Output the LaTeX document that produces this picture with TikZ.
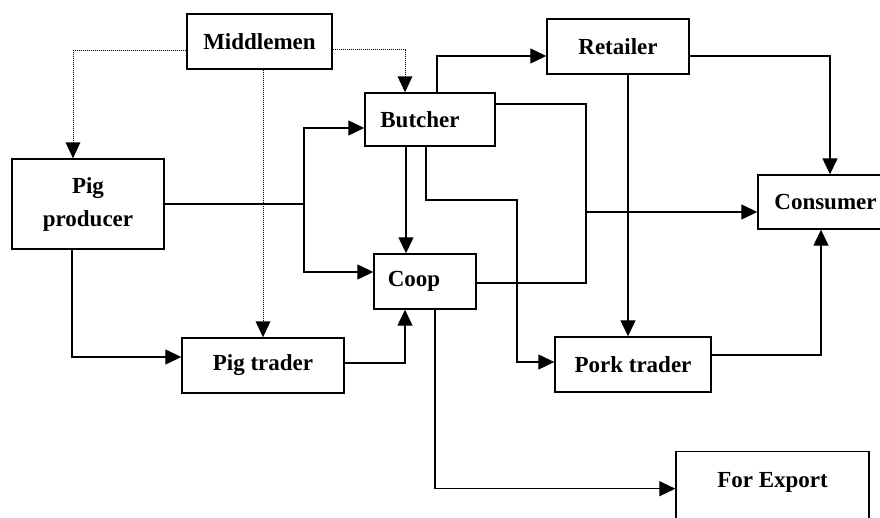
\documentclass[tikz,border=0pt]{standalone}
\usepackage{fontspec}
\setmainfont{Liberation Serif}
\usetikzlibrary{arrows.meta,calc}
\begin{document}
\begin{tikzpicture}[x=1pt,y=-1pt,
  box/.style={draw,line width=1.4pt,inner sep=0pt,font=\bfseries\fontsize{23}{33}\selectfont,align=center},
  conn/.style={line width=1.3pt},
  arr/.style={conn,-{Triangle[length=16pt,width=15pt]}},
  dotline/.style={line width=1pt,densely dotted,-{Triangle[length=16pt,width=15pt,line width=0pt]}}
]
\useasboundingbox (0,0) rectangle (880,518);
% nodes
\node[box,minimum width=145pt,minimum height=55pt] (mid) at (259.5,41.5) {Middlemen};
\node[box,minimum width=152pt,minimum height=90pt] (prod) at (88,204) {Pig\\producer};
\node[box,minimum width=130pt,minimum height=53pt] (butch) at (430,119.5) {Butcher\hspace*{20pt}};
\node[box,minimum width=102pt,minimum height=55pt] (coop) at (425,281.5) {Coop\hspace*{22pt}};
\node[box,minimum width=142pt,minimum height=55pt] (ret) at (618,46.5) {Retailer};
\node[box,minimum width=135pt,minimum height=54pt] (cons) at (825.5,202) {Consumer};
\node[box,minimum width=162pt,minimum height=55pt] (ptrader) at (263,365.5) {Pig trader};
\node[box,minimum width=156pt,minimum height=55pt] (pork) at (633,364.5) {Pork trader};
\node[box,minimum width=193pt,text height=36pt,text depth=53pt,anchor=north] (export) at (772.5,451) {For Export};
% helper coordinates
\coordinate (j1) at (304,204);
\coordinate (b1) at (517,200);
\coordinate (j2) at (586,212);
% dotted connectors from Middlemen
\draw[dotline] ($(mid.west)+(0,9.5)$) -| ($(prod.north)+(-15,0)$);
\draw[dotline] ($(mid.east)+(0,8.5)$) -| ($(butch.north)+(-25,0)$);
\draw[dotline] (ptrader.north |- mid.south) -- (ptrader.north);
% pig producer
\draw[conn] (prod.east) -- (j1);
\draw[arr] (j1) |- ($(butch.west)+(0,8.5)$);
\draw[arr] (j1) |- ($(coop.west)+(0,-9.5)$);
\draw[arr] ($(prod.south)+(-16,0)$) |- ($(ptrader.west)+(0,-8.5)$);
% pig trader to coop
\draw[arr] ($(ptrader.east)+(0,-2.5)$) -| ($(coop.south)+(-20,0)$);
% butcher
\draw[arr] ($(butch.south)+(-24,0)$) -- ($(coop.north)+(-19,0)$);
\draw[arr] ($(butch.south)+(-4,0)$) |- (b1) |- ($(pork.west)+(0,-2.5)$);
\draw[arr] ($(butch.north)+(7,0)$) |- ($(ret.west)+(0,9.5)$);
\draw[conn] ($(butch.east)+(0,-15.5)$) -| (j2);
\draw[conn] ($(coop.east)+(0,1.5)$) -| (j2);
\draw[arr] (j2) -- (cons.west |- j2);
% retailer
\draw[arr] ($(ret.east)+(0,9.5)$) -| ($(cons.north)+(4.5,0)$);
\draw[arr] ($(ret.south)+(10,0)$) -- ($(pork.north)+(-5,0)$);
% pork trader
\draw[arr] ($(pork.east)+(0,-9.5)$) -| ($(cons.south)+(-4.5,0)$);
% coop to export
\draw[arr] ($(coop.south)+(10,0)$) |- ($(export.west)+(0,-7.5)$);
\end{tikzpicture}
\end{document}
